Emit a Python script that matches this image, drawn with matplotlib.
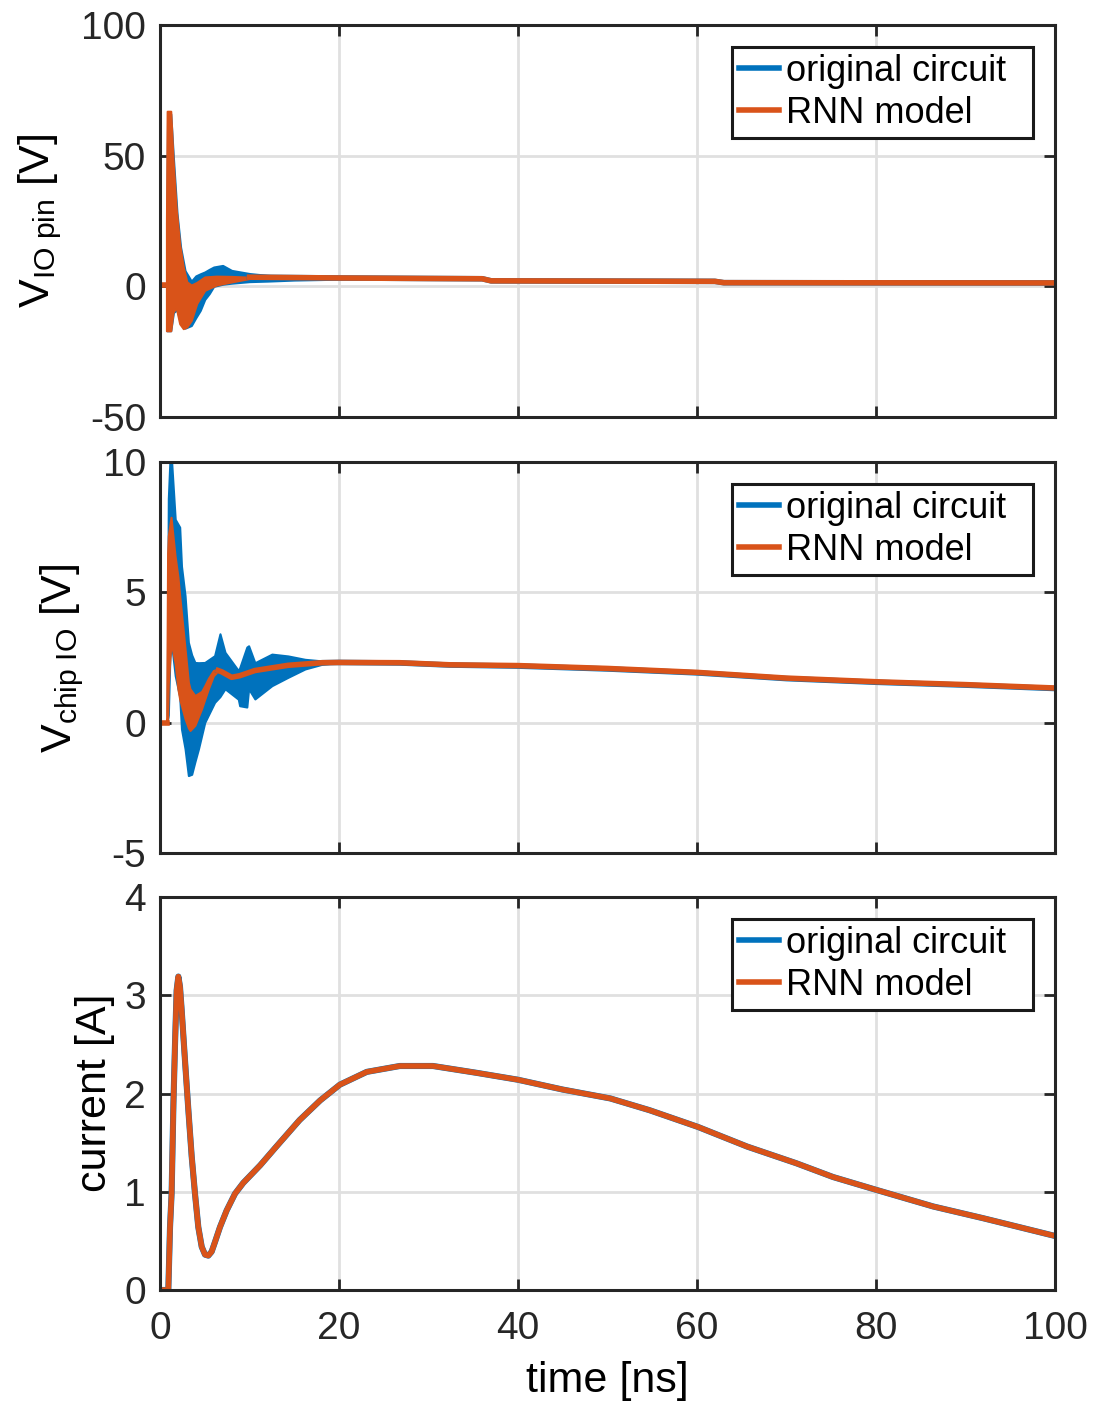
import matplotlib
matplotlib.use('Agg')
import matplotlib.pyplot as plt

# colours of the two series
c_orig = '#0072BD'
c_rnn = '#D95319'

# ---- panel 1 : V_IO pin [V] ----
# fast oscillation drawn as envelope bands (upper / lower) + the settled line
t_v1_orig_band = [0.75, 0.85, 1.2, 1.5, 1.9, 2.3, 2.8, 3.5, 4.0, 4.5, 5.0, 5.5, 6.0, 7.0, 8.0, 10.0, 12.0, 15.0, 18.0, 22.0]
v1_orig_hi = [22, 66, 66, 49, 28, 15, 6, 2, 4, 4.8, 5.5, 6.5, 7.4, 8.0, 6.1, 4.9, 4.2, 3.6, 3.3, 3.1]
v1_orig_lo = [-17, -17, -17, -10, -9, -14, -16, -15, -12, -9.2, -5, -2.8, 0, 0.8, 1.2, 1.8, 2.0, 2.4, 2.6, 2.9]
t_v1_rnn_band = [0.72, 0.8, 1.2, 1.45, 1.8, 2.2, 2.6, 3.0, 3.5, 4.1, 5.0, 6.3, 8.0, 10.0]
v1_rnn_hi = [24, 67, 67, 49, 30, 16, 7.4, 1.7, 0.5, 1.5, 3.6, 3.9, 3.8, 3.5]
v1_rnn_lo = [-17, -17, -17, -10, -8, -14.3, -16.2, -15.5, -13, -6.6, -1.5, 0.5, 1.7, 3.0]
t_v1_pre = [0, 0.72]
v1_pre = [0.4, 0.4]
t_v1_line = [10, 20, 30, 36, 37, 50, 62, 63, 80, 100]
v1_orig_line = [3.5, 3.2, 3.0, 2.9, 2.1, 2.0, 1.9, 1.4, 1.35, 1.3]
v1_rnn_line = [3.5, 3.2, 3.0, 2.9, 2.1, 2.0, 1.9, 1.4, 1.35, 1.3]

# ---- panel 2 : V_chip IO [V] ----
t_v2_orig_band = [0.8, 0.93, 1.1, 1.3, 1.7, 2.2, 2.4, 2.8, 3.17, 3.54, 3.9, 4.3, 5.0, 6.1, 6.7, 7.26, 8.75, 8.9, 9.7, 9.9, 10.6, 12.5, 14.3, 16.2, 18.1, 20.0]
v2_orig_hi = [0.4, 8.6, 10.0, 10.0, 7.8, 7.5, 6.0, 4.87, 3.08, 2.6, 2.31, 2.3, 2.31, 2.57, 3.41, 2.7, 2.0, 2.1, 2.9, 2.95, 2.3, 2.63, 2.56, 2.43, 2.37, 2.37]
v2_orig_lo = [0.0, 0.3, 2.5, 3.0, 1.8, 1.0, -0.24, -1.0, -2.03, -1.98, -1.5, -1.0, 0.01, 0.78, 1.0, 1.3, 0.9, 0.65, 0.6, 1.3, 0.91, 1.42, 1.74, 2.06, 2.24, 2.31]
t_v2_rnn_band = [0.75, 0.85, 0.93, 1.23, 1.68, 2.0, 2.2, 2.8, 3.17, 3.35, 3.9, 4.65, 5.0, 5.4, 5.96, 6.5]
v2_rnn_hi = [0.4, 6.5, 7.17, 7.88, 6.4, 5.6, 4.87, 2.83, 1.55, 1.3, 1.04, 1.2, 1.42, 1.7, 2.0, 2.07]
v2_rnn_lo = [0.0, 0.2, 1.5, 3.1, 2.3, 1.3, 0.9, 0.15, -0.2, -0.3, -0.1, 0.54, 0.9, 1.3, 1.8, 1.99]
t_v2_pre = [0, 0.75]
v2_pre = [0, 0]
t_v2_line = [6.5, 6.9, 8.0, 8.9, 10.6, 14.3, 18.1, 20, 26.8, 32.4, 40, 50, 60, 70, 80, 90, 100]
v2_orig_line = [2.0, 1.95, 1.74, 1.8, 2.0, 2.2, 2.3, 2.31, 2.29, 2.21, 2.17, 2.06, 1.91, 1.69, 1.55, 1.44, 1.31]
v2_rnn_line = [2.0, 1.95, 1.74, 1.8, 2.0, 2.2, 2.3, 2.31, 2.30, 2.22, 2.19, 2.08, 1.93, 1.71, 1.57, 1.46, 1.33]

# ---- panel 3 : current [A] ----
t_i = [0, 0.93, 1.12, 1.3, 1.5, 1.68, 1.86, 2.05, 2.23, 2.42, 2.79, 3.17, 3.54, 3.91, 4.28, 4.66, 5.03, 5.4, 5.77,
       6.15, 6.7, 7.45, 8.38, 9.3, 11.2, 13.0, 15.6, 17.9, 20.1, 23.1, 26.8, 30.5, 35.4, 40.0, 45.0, 50.3, 54.7,
       60.1, 65.6, 71.1, 75.2, 80.0, 86.4, 92.0, 100.0]
i_orig = [0, 0, 0.64, 0.99, 1.9, 2.51, 3.05, 3.19, 3.09, 2.85, 2.34, 1.83, 1.36, 0.98, 0.64, 0.44, 0.36, 0.35, 0.39,
          0.49, 0.64, 0.81, 0.98, 1.09, 1.27, 1.46, 1.73, 1.93, 2.09, 2.22, 2.28, 2.28, 2.21, 2.14, 2.04, 1.95, 1.83,
          1.66, 1.46, 1.29, 1.15, 1.02, 0.85, 0.73, 0.55]
i_rnn = [0, 0, 0.64, 0.99, 1.9, 2.51, 3.05, 3.19, 3.09, 2.85, 2.34, 1.83, 1.36, 0.98, 0.64, 0.44, 0.36, 0.35, 0.39,
         0.49, 0.64, 0.81, 0.98, 1.09, 1.27, 1.46, 1.73, 1.93, 2.09, 2.22, 2.28, 2.28, 2.21, 2.14, 2.04, 1.95, 1.83,
         1.66, 1.46, 1.29, 1.15, 1.02, 0.85, 0.73, 0.55]

xticks = [0, 20, 40, 60, 80, 100]
labels = ['original circuit  ', 'RNN model']

plt.rcParams['font.family'] = ['Liberation Sans', 'DejaVu Sans']
plt.rcParams['mathtext.fontset'] = 'custom'
plt.rcParams['mathtext.rm'] = 'Liberation Sans'
plt.rcParams['mathtext.it'] = 'Liberation Sans'
plt.rcParams['axes.unicode_minus'] = False

W, H = 1094, 1405
fig = plt.figure(figsize=(W / 100, H / 100), dpi=100)

left = 160 / W
width = (1055 - 160) / W
boxes = [(25, 417), (462, 853), (897, 1290)]
axs = []
for top, bot in boxes:
    axs.append(fig.add_axes([left, 1 - bot / H, width, (bot - top) / H]))

lw = 4.0

def style(ax, ylim, yticks, show_x, handles):
    ax.set_xlim(0, 100)
    ax.set_ylim(*ylim)
    ax.set_xticks(xticks)
    ax.set_yticks(yticks)
    ax.grid(True, color='#e0e0e0', lw=2)
    ax.set_axisbelow(True)
    for s in ax.spines.values():
        s.set_color('#262626')
        s.set_linewidth(2.2)
    ax.tick_params(direction='in', length=8, width=2, colors='#262626',
                   labelsize=28, top=True, right=True, pad=10)
    ax.tick_params(axis='x', pad=15)
    if not show_x:
        ax.set_xticklabels([])
    leg = ax.legend(handles, labels, loc='upper right', fontsize=26, fancybox=False,
                    edgecolor='#1a1a1a', framealpha=1, borderpad=0.2,
                    labelspacing=0.2, handlelength=1.1, handletextpad=0.2,
                    borderaxespad=0.6)
    leg.get_frame().set_linewidth(2.2)
    for h in leg.get_lines():
        h.set_linewidth(4)

# panel 1
ax = axs[0]
ax.plot(t_v1_pre, v1_pre, color=c_rnn, lw=lw)
l_orig, = ax.plot(t_v1_line, v1_orig_line, color=c_orig, lw=lw)
l_rnn, = ax.plot(t_v1_line, v1_rnn_line, color=c_rnn, lw=lw)
ax.fill_between(t_v1_orig_band, v1_orig_lo, v1_orig_hi, color=c_orig, lw=1.5, edgecolor=c_orig)
ax.fill_between(t_v1_rnn_band, v1_rnn_lo, v1_rnn_hi, color=c_rnn, lw=1.5, edgecolor=c_rnn)
style(ax, (-50, 100), [-50, 0, 50, 100], False, [l_orig, l_rnn])

# panel 2
ax = axs[1]
ax.plot(t_v2_pre, v2_pre, color=c_rnn, lw=lw)
l_orig, = ax.plot(t_v2_line, v2_orig_line, color=c_orig, lw=lw)
l_rnn, = ax.plot(t_v2_line, v2_rnn_line, color=c_rnn, lw=lw)
ax.fill_between(t_v2_orig_band, v2_orig_lo, v2_orig_hi, color=c_orig, lw=1.5, edgecolor=c_orig)
ax.fill_between(t_v2_rnn_band, v2_rnn_lo, v2_rnn_hi, color=c_rnn, lw=1.5, edgecolor=c_rnn)
style(ax, (-5, 10), [-5, 0, 5, 10], False, [l_orig, l_rnn])

# panel 3
ax = axs[2]
l_orig, = ax.plot(t_i, i_orig, color=c_orig, lw=lw + 0.4)
l_rnn, = ax.plot(t_i, i_rnn, color=c_rnn, lw=lw)
style(ax, (0, 4), [0, 1, 2, 3, 4], True, [l_orig, l_rnn])
ax.set_xlabel('time [ns]', fontsize=31, labelpad=10)

# y labels, centred where the reference has them
fig.text(40 / W, 1 - 221 / H, r'$\mathrm{V}_{\mathrm{IO\ pin}}$ [V]', rotation=90,
         ha='center', va='center', fontsize=31)
fig.text(62 / W, 1 - 658 / H, r'$\mathrm{V}_{\mathrm{chip\ IO}}$ [V]', rotation=90,
         ha='center', va='center', fontsize=31)
fig.text(95 / W, 1 - 1093 / H, 'current [A]', rotation=90,
         ha='center', va='center', fontsize=31)

fig.savefig('out.png', dpi=100)
